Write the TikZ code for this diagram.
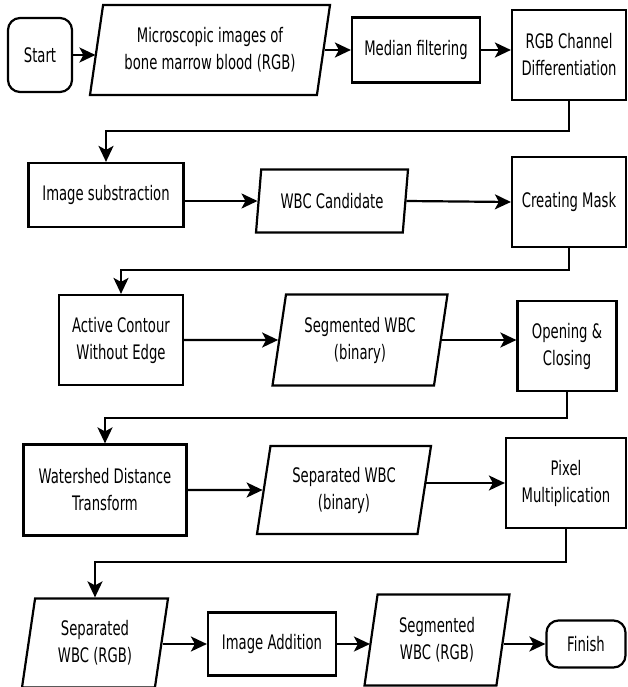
\documentclass[tikz,border=0pt]{standalone}
\usepackage{fontspec}
\setmainfont{DejaVu Sans}[FakeStretch=0.66]
\usetikzlibrary{arrows.meta,shapes.geometric}

\begin{document}
\begin{tikzpicture}[x=1pt,y=-1pt,font=\fontsize{20}{27}\selectfont,
   line width=2.2pt,
   proc/.style={draw,rectangle,align=center,inner sep=2pt},
   io/.style={draw,trapezium,trapezium left angle=75,trapezium right angle=105,
      trapezium stretches body,align=center,inner sep=2pt},
   term/.style={draw,rectangle,rounded corners=12pt,align=center},
   arr/.style={-{Stealth[length=16pt,width=15pt,inset=4pt]}}]
\useasboundingbox (0,0) rectangle (628,687);
% row 1
\node[term,minimum width=64pt,minimum height=74pt] (start) at (40,55) {Start};
\node[io,minimum width=240pt,minimum height=90pt] (img) at (210,50) {Microscopic images of\\bone marrow blood (RGB)};
\node[proc,minimum width=128pt,minimum height=65pt] (med) at (416,50) {Median filtering};
\node[proc,minimum width=114pt,minimum height=90pt] (rgb) at (569,55) {RGB Channel\\Differentiation};
\draw[arr] (start.east) -- (start.east -| img.west);
\draw[arr] (img.east |- med.west) -- (med.west);
\draw[arr] (med.east) -- (med.east -| rgb.west);
% row 2
\node[proc,minimum width=155pt,minimum height=64pt] (sub) at (106,195) {Image substraction};
\node[io,minimum width=152pt,minimum height=63pt] (cand) at (332,201) {WBC Candidate};
\node[proc,minimum width=114pt,minimum height=90pt] (mask) at (569,202) {Creating Mask};
\coordinate (k1) at (0,131);
\draw[arr] (rgb.south) -- (rgb.south |- k1) -| (sub.north);
\draw[arr] (sub.east |- cand.west) -- (cand.west);
\draw[arr] (cand.east) -- (mask.west);
% row 3
\node[proc,minimum width=124pt,minimum height=90pt] (acwe) at (121,340) {Active Contour\\Without Edge};
\node[io,minimum width=175pt,minimum height=91pt] (segb) at (360,340) {Segmented WBC\\(binary)};
\node[proc,minimum width=99pt,minimum height=90pt] (oc) at (567,346) {Opening \&\\Closing};
\coordinate (k2) at (0,270);
\draw[arr] (mask.south) -- (mask.south |- k2) -| (acwe.north);
\draw[arr] (acwe.east) -- (segb.west);
\draw[arr] (segb.east) -- (segb.east -| oc.west);
% row 4
\node[proc,minimum width=163pt,minimum height=91pt] (ws) at (105,490) {Watershed Distance\\Transform};
\node[io,minimum width=174pt,minimum height=88pt] (sepb) at (344,490) {Separated WBC\\(binary)};
\node[proc,minimum width=120pt,minimum height=90pt] (pix) at (566,483) {Pixel\\Multiplication};
\coordinate (k3) at (0,418);
\draw[arr] (oc.south) -- (oc.south |- k3) -| (ws.north);
\draw[arr] (ws.east) -- (sepb.west);
\draw[arr] (sepb.east |- pix.west) -- (pix.west);
% row 5
\node[io,minimum width=146pt,minimum height=89pt] (sepc) at (95,643) {Separated\\WBC (RGB)};
\node[proc,minimum width=128pt,minimum height=63pt] (add) at (272,644) {Image Addition};
\node[io,minimum width=145pt,minimum height=91pt] (segc) at (437,640) {Segmented\\WBC (RGB)};
\node[term,minimum width=79pt,minimum height=47pt] (fin) at (586,644) {Finish};
\coordinate (k4) at (0,562);
\draw[arr] (pix.south) -- (pix.south |- k4) -| (sepc.north);
\draw[arr] (sepc.east |- add.west) -- (add.west);
\draw[arr] (add.east) -- (add.east -| segc.west);
\draw[arr] (segc.east |- fin.west) -- (fin.west);
\end{tikzpicture}
\end{document}
